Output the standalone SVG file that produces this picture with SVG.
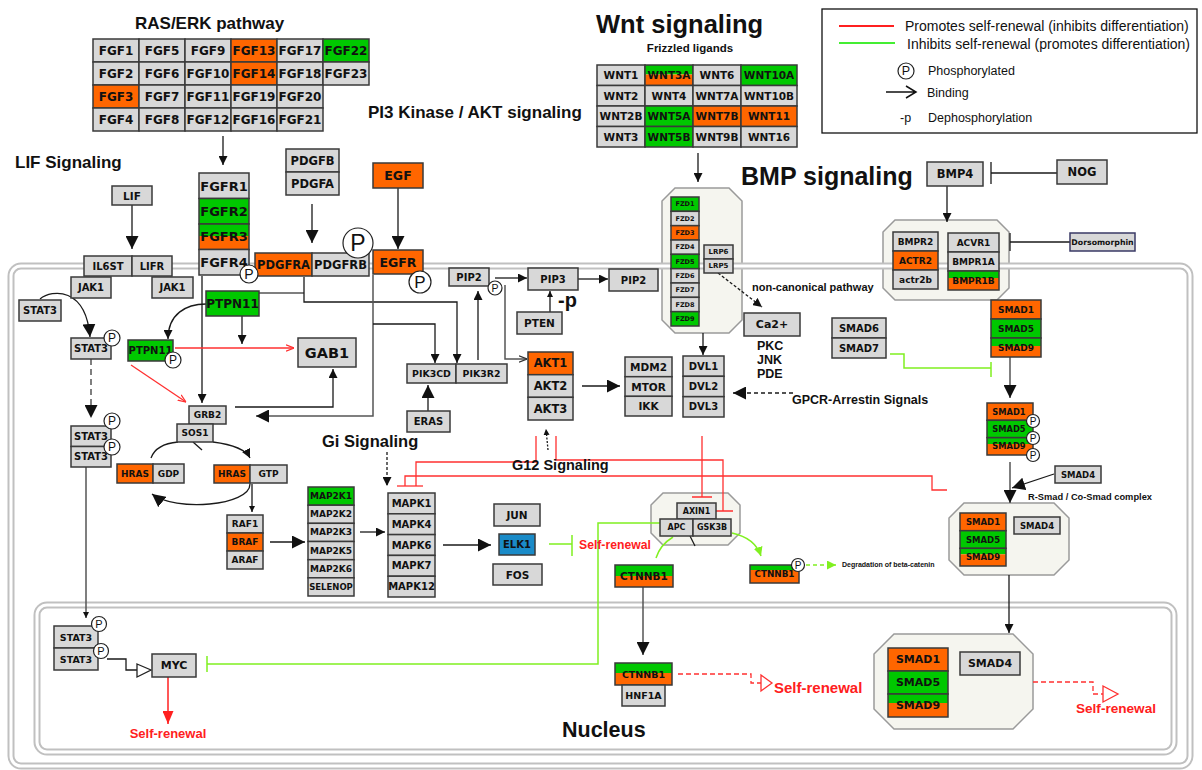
<svg xmlns="http://www.w3.org/2000/svg" width="1202" height="770" viewBox="0 0 1202 770">
<style>
.n{fill:#d8d8d8;stroke:#3a3a3a;stroke-width:1.5}
.o{fill:#ff6600;stroke:#3a3a3a;stroke-width:1.5}
.g{fill:#00c800;stroke:#3a3a3a;stroke-width:1.5}
.bl{fill:#1a8bc8;stroke:#3a3a3a;stroke-width:1.5}
.b{fill:none;stroke:#3a3a3a;stroke-width:1.5}
.fo{fill:#ff6600}
.fg{fill:#00c800}
.t{font-family:"DejaVu Sans",Verdana,sans-serif;font-weight:bold;text-anchor:middle;dominant-baseline:central;fill:#111}
.h{font-family:"Liberation Sans",Arial,sans-serif;font-weight:bold;fill:#111}
.hr{font-family:"Liberation Sans",Arial,sans-serif;font-weight:bold;fill:#ff2020}
.l{font-family:"Liberation Sans",Arial,sans-serif;fill:#111}
.cx{fill:#f5f5ef;stroke:#9a9a9a;stroke-width:1.5}
.mem{fill:none;stroke:#c0c0c0;stroke-width:7}
.memi{fill:none;stroke:#fff;stroke-width:3}
.k{fill:none;stroke:#1a1a1a;stroke-width:1.3}
.gr{fill:none;stroke:#555;stroke-width:1.5}
.r{fill:none;stroke:#ff3030;stroke-width:1.3}
.gn{fill:none;stroke:#80f020;stroke-width:1.5}
.pc{fill:#fff;stroke:#222;stroke-width:1.2}
.pt{font-family:"Liberation Sans",Arial,sans-serif;text-anchor:middle;dominant-baseline:central;fill:#111}
</style>
<defs>
<marker id="ak" viewBox="0 0 10 10" refX="10" refY="5" markerWidth="9" markerHeight="9" markerUnits="userSpaceOnUse" orient="auto"><path d="M0,0L10,5L0,10z" fill="#111"/></marker>
<marker id="aK" viewBox="0 0 10 10" refX="10" refY="5" markerWidth="13" markerHeight="13" markerUnits="userSpaceOnUse" orient="auto"><path d="M0,0L10,5L0,10z" fill="#111"/></marker>
<marker id="as" viewBox="0 0 10 10" refX="10" refY="5" markerWidth="6" markerHeight="6" markerUnits="userSpaceOnUse" orient="auto"><path d="M0,0L10,5L0,10z" fill="#111"/></marker>
<marker id="ar" viewBox="0 0 10 10" refX="10" refY="5" markerWidth="8" markerHeight="8" markerUnits="userSpaceOnUse" orient="auto"><path d="M0,1L10,5L0,9" fill="none" stroke="#ff3030" stroke-width="1.5"/></marker>
<marker id="ao" viewBox="0 0 10 10" refX="10" refY="5" markerWidth="8" markerHeight="8" markerUnits="userSpaceOnUse" orient="auto"><path d="M0,1L10,5L0,9" fill="none" stroke="#333" stroke-width="1.5"/></marker>
<marker id="aR" viewBox="0 0 10 10" refX="10" refY="5" markerWidth="13" markerHeight="11" markerUnits="userSpaceOnUse" orient="auto" preserveAspectRatio="none"><path d="M0,0L10,5L0,10z" fill="#ff2020"/></marker>
<marker id="ag" viewBox="0 0 10 10" refX="10" refY="5" markerWidth="9" markerHeight="9" markerUnits="userSpaceOnUse" orient="auto"><path d="M0,0L10,5L0,10z" fill="#80f020"/></marker>
</defs>
<rect width="1202" height="770" fill="#fff"/>

<!-- complexes (octagons) -->
<g id="complexes">
<polygon class="cx" points="675,188 729,188 742,201 742,320 729,333 675,333 662,320 662,201"/>
<polygon class="cx" points="895,220 997,220 1009,232 1009,288 997,300 895,300 883,288 883,232"/>
<polygon class="cx" points="663,493 728,493 740,505 740,533 728,545 663,545 651,533 651,505"/>
<polygon class="cx" points="964,503 1054,503 1069,518 1069,560 1054,575 964,575 949,560 949,518"/>
<polygon class="cx" points="894,634 1013,634 1033,654 1033,709 1013,729 894,729 874,709 874,654"/>
</g>

<!-- compartments -->
<g id="compartments">
<rect class="mem" x="11" y="266" width="1179" height="500" rx="10"/>
<rect class="memi" x="11" y="266" width="1179" height="500" rx="10"/>
<rect class="mem" x="37" y="605" width="1137" height="147" rx="10"/>
<rect class="memi" x="37" y="605" width="1137" height="147" rx="10"/>
</g>

<!-- connectors -->
<g id="connectors">
<path class="k" d="M223 136V165" marker-end="url(#ak)"/>
<path class="k" d="M132 205V249" marker-end="url(#aK)"/>
<path class="k" d="M40 299C52 289 86 287 90 337" marker-end="url(#aK)"/>
<path class="gr" d="M91 359V418" stroke-dasharray="6,4" marker-end="url(#aK)"/>
<path class="gr" d="M86 467V618" marker-end="url(#as)"/>
<path class="k" d="M312 204V243" marker-end="url(#aK)"/>
<path class="k" d="M398 188V249" marker-end="url(#aK)"/>
<path class="k" d="M202 276V403" marker-end="url(#ak)"/>
<path class="gr" d="M259 293H304"/>
<path class="k" d="M304 277V302H457V363" marker-end="url(#ak)"/>
<path class="gr" d="M373 275V416H256" marker-end="url(#aK)"/>
<path class="k" d="M373 324H435V363" marker-end="url(#ak)"/>
<path class="k" d="M235 407H333V369" marker-end="url(#ak)"/>
<path class="k" d="M206 304C186 304 168 314 168 339" marker-end="url(#ak)"/>
<path class="k" d="M242 316V344" marker-end="url(#ak)"/>
<path class="r" d="M175 348H294" marker-end="url(#ar)"/>
<path class="r" d="M131 365L186 402" marker-end="url(#ar)"/>
<path class="k" d="M151 458Q156 444 178 442"/>
<path class="k" d="M213 442Q244 446 250 458" marker-end="url(#ak)"/>
<path class="k" d="M193 442L202 450"/>
<path class="k" d="M250 484C250 506 175 512 152 494" marker-end="url(#aK)"/>
<path class="k" d="M252 484V512" marker-end="url(#as)"/>
<path class="k" d="M270 542H305" marker-end="url(#aK)"/>
<path class="k" d="M360 532H385" marker-end="url(#ak)"/>
<path class="k" d="M443 545H491" marker-end="url(#aK)"/>
<path class="gn" d="M549 544H572M572 535V556"/>
<path class="k" d="M387 452V486" stroke-dasharray="3,2" marker-end="url(#ak)"/>
<path class="r" d="M397 486H423"/>
<path class="r" d="M416 486V462H536V436"/>
<path class="r" d="M405 486V476H932V490H947"/>
<path class="r" d="M556 436V460H723V511M715 511H733"/>
<path class="r" d="M702 436V497M692 497H712"/>
<path class="k" d="M548 450L546 429" stroke-dasharray="2,1.5" marker-end="url(#as)"/>
<path class="k" d="M478 360V291" marker-end="url(#ak)"/>
<path class="k" d="M428 411V385" marker-end="url(#aK)"/>
<path class="k" d="M495 278H527" marker-end="url(#ak)"/>
<path class="k" d="M578 279H608" marker-end="url(#ak)"/>
<path class="k" d="M550 312V291" marker-end="url(#as)"/>
<path class="gr" d="M505 285V359H527" marker-end="url(#ao)"/>
<path class="k" d="M582 386H620" marker-end="url(#aK)"/>
<path class="k" d="M698 153V182" marker-end="url(#ak)"/>
<path class="k" d="M703 333V355" marker-end="url(#ak)"/>
<path class="k" d="M718 273L762 307" stroke-dasharray="3,2" marker-end="url(#ak)"/>
<path class="k" d="M793 393H733" stroke-dasharray="4,3" marker-end="url(#aK)"/>
<path class="k" d="M947 186V222" marker-end="url(#ak)"/>
<path class="k" d="M1057 173H991"/><path class="k" d="M991 162V184" stroke-width="2.2"/>
<path class="k" d="M1070 242H1010"/><path class="k" d="M1010 233V251" stroke-width="2.2"/>
<path class="gn" d="M890 354H904V368H991M991 362V377"/>
<path class="gr" d="M1010 357V398" stroke-width="2" marker-end="url(#aK)"/>
<path class="gr" d="M1010 462V503" stroke-width="2" marker-end="url(#aK)"/>
<path class="k" d="M1054 474L1012 488" marker-end="url(#aK)"/>
<path class="k" d="M1009 575V633" marker-end="url(#ak)"/>
<path class="r" d="M1033 682H1093V694H1103" stroke-dasharray="5,3"/>
<polygon points="1103,686 1118,694 1103,702" fill="#fff" stroke="#ff3030" stroke-width="1.3"/>
<path class="gr" d="M643 587V655" marker-end="url(#aK)"/>
<path class="r" d="M678 674H751V683H761" stroke-dasharray="5,3"/>
<polygon points="761,675 772,683 761,691" fill="#fff" stroke="#ff3030" stroke-width="1.3"/>
<path class="k" d="M107 659H126V670H137"/>
<polygon points="137,664 151,670 137,677" fill="#fff" stroke="#222" stroke-width="1.3"/>
<path d="M168 677V724" stroke="#ff2020" stroke-width="1.5" fill="none" marker-end="url(#aR)"/>
<path class="gn" d="M660 523H598V664H207M207 656V672"/>
<path class="gn" d="M673 537Q660 545 656 558"/>
<path class="gn" d="M732 533Q755 538 761 556" marker-end="url(#ag)"/>
<path class="k" d="M690 536L695 546"/>
<path class="gn" d="M806 565H836" stroke-dasharray="4,3" marker-end="url(#ag)"/>
</g>

<!-- FGF ligands -->
<g id="fgf-ligands">
<rect class="n" x="93" y="39" width="46" height="23"/><text class="t" x="116" y="50.5" font-size="12">FGF1</text>
<rect class="n" x="139" y="39" width="46" height="23"/><text class="t" x="162" y="50.5" font-size="12">FGF5</text>
<rect class="n" x="185" y="39" width="46" height="23"/><text class="t" x="208" y="50.5" font-size="12">FGF9</text>
<rect class="o" x="231" y="39" width="46" height="23"/><text class="t" x="254" y="50.5" font-size="12">FGF13</text>
<rect class="n" x="277" y="39" width="46" height="23"/><text class="t" x="300" y="50.5" font-size="12">FGF17</text>
<rect class="g" x="323" y="39" width="46" height="23"/><text class="t" x="346" y="50.5" font-size="12">FGF22</text>
<rect class="n" x="93" y="62" width="46" height="23"/><text class="t" x="116" y="73.5" font-size="12">FGF2</text>
<rect class="n" x="139" y="62" width="46" height="23"/><text class="t" x="162" y="73.5" font-size="12">FGF6</text>
<rect class="n" x="185" y="62" width="46" height="23"/><text class="t" x="208" y="73.5" font-size="12">FGF10</text>
<rect class="o" x="231" y="62" width="46" height="23"/><text class="t" x="254" y="73.5" font-size="12">FGF14</text>
<rect class="n" x="277" y="62" width="46" height="23"/><text class="t" x="300" y="73.5" font-size="12">FGF18</text>
<rect class="n" x="323" y="62" width="46" height="23"/><text class="t" x="346" y="73.5" font-size="12">FGF23</text>
<rect class="o" x="93" y="85" width="46" height="23"/><text class="t" x="116" y="96.5" font-size="12">FGF3</text>
<rect class="n" x="139" y="85" width="46" height="23"/><text class="t" x="162" y="96.5" font-size="12">FGF7</text>
<rect class="n" x="185" y="85" width="46" height="23"/><text class="t" x="208" y="96.5" font-size="12">FGF11</text>
<rect class="n" x="231" y="85" width="46" height="23"/><text class="t" x="254" y="96.5" font-size="12">FGF19</text>
<rect class="n" x="277" y="85" width="46" height="23"/><text class="t" x="300" y="96.5" font-size="12">FGF20</text>
<rect class="n" x="93" y="108" width="46" height="23"/><text class="t" x="116" y="119.5" font-size="12">FGF4</text>
<rect class="n" x="139" y="108" width="46" height="23"/><text class="t" x="162" y="119.5" font-size="12">FGF8</text>
<rect class="n" x="185" y="108" width="46" height="23"/><text class="t" x="208" y="119.5" font-size="12">FGF12</text>
<rect class="n" x="231" y="108" width="46" height="23"/><text class="t" x="254" y="119.5" font-size="12">FGF16</text>
<rect class="n" x="277" y="108" width="46" height="23"/><text class="t" x="300" y="119.5" font-size="12">FGF21</text>
</g>

<!-- WNT ligands -->
<g id="wnt-ligands">
<rect class="n" x="597" y="65" width="48" height="20.5"/><text class="t" x="621" y="75.3" font-size="10.5">WNT1</text>
<rect class="fg" x="645" y="65" width="48" height="9.5"/><rect class="fo" x="645" y="74.5" width="48" height="11"/><rect class="b" x="645" y="65" width="48" height="20.5"/><text class="t" x="669" y="75.3" font-size="10.5">WNT3A</text>
<rect class="n" x="693" y="65" width="48" height="20.5"/><text class="t" x="717" y="75.3" font-size="10.5">WNT6</text>
<rect class="g" x="741" y="65" width="56" height="20.5"/><text class="t" x="769" y="75.3" font-size="10.5">WNT10A</text>
<rect class="n" x="597" y="85.5" width="48" height="20.5"/><text class="t" x="621" y="95.8" font-size="10.5">WNT2</text>
<rect class="n" x="645" y="85.5" width="48" height="20.5"/><text class="t" x="669" y="95.8" font-size="10.5">WNT4</text>
<rect class="n" x="693" y="85.5" width="48" height="20.5"/><text class="t" x="717" y="95.8" font-size="10.5">WNT7A</text>
<rect class="n" x="741" y="85.5" width="56" height="20.5"/><text class="t" x="769" y="95.8" font-size="10.5">WNT10B</text>
<rect class="n" x="597" y="106" width="48" height="20.5"/><text class="t" x="621" y="116.3" font-size="10.5">WNT2B</text>
<rect class="g" x="645" y="106" width="48" height="20.5"/><text class="t" x="669" y="116.3" font-size="10.5">WNT5A</text>
<rect class="o" x="693" y="106" width="48" height="20.5"/><text class="t" x="717" y="116.3" font-size="10.5">WNT7B</text>
<rect class="o" x="741" y="106" width="56" height="20.5"/><text class="t" x="769" y="116.3" font-size="10.5">WNT11</text>
<rect class="n" x="597" y="126.5" width="48" height="20.5"/><text class="t" x="621" y="136.8" font-size="10.5">WNT3</text>
<rect class="g" x="645" y="126.5" width="48" height="20.5"/><text class="t" x="669" y="136.8" font-size="10.5">WNT5B</text>
<rect class="n" x="693" y="126.5" width="48" height="20.5"/><text class="t" x="717" y="136.8" font-size="10.5">WNT9B</text>
<rect class="n" x="741" y="126.5" width="56" height="20.5"/><text class="t" x="769" y="136.8" font-size="10.5">WNT16</text>
</g>

<g id="fgfr">
<rect class="n" x="199" y="173" width="50" height="25.5"/><text class="t" x="224" y="186" font-size="13">FGFR1</text>
<rect class="g" x="199" y="198.5" width="50" height="25.5"/><text class="t" x="224" y="211.3" font-size="13">FGFR2</text>
<rect class="fg" x="199" y="224" width="50" height="12"/><rect class="fo" x="199" y="236" width="50" height="13.5"/><rect class="b" x="199" y="224" width="50" height="25.5"/><text class="t" x="224" y="236.8" font-size="13">FGFR3</text>
<rect class="n" x="199" y="249.5" width="50" height="25.5"/><text class="t" x="224" y="262.3" font-size="13">FGFR4</text>
</g>
<g id="lif"><rect class="n" x="112" y="186" width="40" height="19"/><text class="t" x="132" y="195.5" font-size="10.5">LIF</text></g>
<g id="il6st-lifr">
<rect class="n" x="84" y="256" width="48" height="20"/><text class="t" x="108" y="266" font-size="10">IL6ST</text>
<rect class="n" x="132" y="256" width="40" height="20"/><text class="t" x="152" y="266" font-size="10">LIFR</text>
</g>
<g id="jak1-a"><rect class="n" x="71" y="277" width="40" height="21"/><text class="t" x="91" y="287.5" font-size="10">JAK1</text></g>
<g id="jak1-b"><rect class="n" x="152" y="277" width="41" height="21"/><text class="t" x="172.5" y="287.5" font-size="10">JAK1</text></g>
<g id="stat3"><rect class="n" x="19" y="300" width="42" height="21"/><text class="t" x="40" y="310.5" font-size="10">STAT3</text></g>
<g id="stat3-p"><rect class="n" x="71" y="338" width="40" height="21"/><text class="t" x="91" y="348.5" font-size="10">STAT3</text></g>
<g id="stat3-dimer">
<rect class="n" x="71" y="426" width="40" height="20.5"/><text class="t" x="91" y="436.3" font-size="10">STAT3</text>
<rect class="n" x="71" y="446.5" width="40" height="20.5"/><text class="t" x="91" y="456.8" font-size="10">STAT3</text>
</g>
<g id="pdgf">
<rect class="n" x="286" y="149" width="53" height="23"/><text class="t" x="312.5" y="160.5" font-size="11.5">PDGFB</text>
<rect class="n" x="286" y="172" width="53" height="23"/><text class="t" x="312.5" y="183.5" font-size="11.5">PDGFA</text>
</g>
<g id="pdgfr">
<rect class="o" x="255" y="253" width="57" height="23"/><text class="t" x="283.5" y="264.5" font-size="11.5">PDGFRA</text>
<rect class="n" x="312" y="253" width="57" height="23"/><text class="t" x="340.5" y="264.5" font-size="11.5">PDGFRB</text>
</g>
<g id="egf"><rect class="o" x="373" y="163" width="50" height="25"/><text class="t" x="398" y="175.5" font-size="12.5">EGF</text></g>
<g id="egfr"><rect class="o" x="373" y="250" width="50" height="24"/><text class="t" x="398" y="262" font-size="12.5">EGFR</text></g>
<g id="ptpn11"><rect class="g" x="206" y="291" width="53" height="25"/><text class="t" x="232.5" y="303.5" font-size="12">PTPN11</text></g>
<g id="ptpn11-p"><rect class="g" x="128" y="340" width="45" height="21"/><text class="t" x="150.5" y="350.5" font-size="10">PTPN11</text></g>
<g id="gab1"><rect class="n" x="298" y="338" width="58" height="29"/><text class="t" x="327" y="352.5" font-size="14.5">GAB1</text></g>
<g id="grb2"><rect class="n" x="189" y="406" width="37" height="18"/><text class="t" x="207.5" y="415" font-size="9">GRB2</text></g>
<g id="sos1"><rect class="n" x="177" y="424" width="36" height="18"/><text class="t" x="195" y="433" font-size="9">SOS1</text></g>
<g id="hras-gdp">
<rect class="o" x="117" y="464" width="36" height="19"/><text class="t" x="135" y="473.5" font-size="9">HRAS</text>
<rect class="n" x="153" y="464" width="31" height="19"/><text class="t" x="168.5" y="473.5" font-size="9">GDP</text>
</g>
<g id="hras-gtp">
<rect class="o" x="214" y="465" width="36" height="18"/><text class="t" x="232" y="474" font-size="9">HRAS</text>
<rect class="n" x="250" y="465" width="37" height="18"/><text class="t" x="268.5" y="474" font-size="9">GTP</text>
</g>
<g id="raf">
<rect class="n" x="227" y="515" width="36" height="18"/><text class="t" x="245" y="524" font-size="9">RAF1</text>
<rect class="o" x="227" y="533" width="36" height="18"/><text class="t" x="245" y="542" font-size="9">BRAF</text>
<rect class="n" x="227" y="551" width="36" height="18"/><text class="t" x="245" y="560" font-size="9">ARAF</text>
</g>
<g id="map2k">
<rect class="g" x="308" y="487" width="46" height="18.2"/><text class="t" x="331" y="496.1" font-size="9">MAP2K1</text>
<rect class="n" x="308" y="505.2" width="46" height="18.2"/><text class="t" x="331" y="514.3" font-size="9">MAP2K2</text>
<rect class="n" x="308" y="523.3" width="46" height="18.2"/><text class="t" x="331" y="532.4" font-size="9">MAP2K3</text>
<rect class="n" x="308" y="541.5" width="46" height="18.2"/><text class="t" x="331" y="550.6" font-size="9">MAP2K5</text>
<rect class="n" x="308" y="559.7" width="46" height="18.2"/><text class="t" x="331" y="568.8" font-size="9">MAP2K6</text>
<rect class="n" x="308" y="577.8" width="46" height="18.2"/><text class="t" x="331" y="586.9" font-size="8.5">SELENOP</text>
</g>
<g id="mapk">
<rect class="n" x="388" y="493" width="47" height="20.8"/><text class="t" x="411.5" y="503.4" font-size="10">MAPK1</text>
<rect class="n" x="388" y="513.8" width="47" height="20.8"/><text class="t" x="411.5" y="524.2" font-size="10">MAPK4</text>
<rect class="n" x="388" y="534.6" width="47" height="20.8"/><text class="t" x="411.5" y="545" font-size="10">MAPK6</text>
<rect class="n" x="388" y="555.4" width="47" height="20.8"/><text class="t" x="411.5" y="565.8" font-size="10">MAPK7</text>
<rect class="n" x="388" y="576.2" width="47" height="20.8"/><text class="t" x="411.5" y="586.6" font-size="10">MAPK12</text>
</g>
<g id="jun"><rect class="n" x="494" y="504" width="46" height="22"/><text class="t" x="517" y="515" font-size="10.5">JUN</text></g>
<g id="elk1"><rect class="bl" x="499" y="534" width="36" height="21"/><text class="t" x="517" y="544.5" font-size="10">ELK1</text></g>
<g id="fos"><rect class="n" x="493" y="564" width="49" height="21"/><text class="t" x="517.5" y="574.5" font-size="10.5">FOS</text></g>
<g id="pi3k">
<rect class="n" x="407" y="364" width="49" height="19"/><text class="t" x="431.5" y="373.5" font-size="9.4">PIK3CD</text>
<rect class="n" x="456" y="364" width="51" height="19"/><text class="t" x="481.5" y="373.5" font-size="9.4">PIK3R2</text>
</g>
<g id="eras"><rect class="n" x="407" y="411" width="43" height="21"/><text class="t" x="428.5" y="421.5" font-size="10">ERAS</text></g>
<g id="pip2-a"><rect class="n" x="449" y="268" width="40" height="18"/><text class="t" x="469" y="277" font-size="10">PIP2</text></g>
<g id="pip3"><rect class="n" x="528" y="268" width="50" height="22"/><text class="t" x="553" y="279" font-size="10">PIP3</text></g>
<g id="pip2-b"><rect class="n" x="609" y="269" width="49" height="22"/><text class="t" x="633.5" y="280" font-size="10">PIP2</text></g>
<g id="pten"><rect class="n" x="517" y="312" width="45" height="22"/><text class="t" x="539.5" y="323" font-size="10.5">PTEN</text></g>
<g id="akt">
<rect class="o" x="528" y="352" width="45" height="22.7"/><text class="t" x="550.5" y="363.3" font-size="11.5">AKT1</text>
<rect class="n" x="528" y="374.7" width="45" height="22.7"/><text class="t" x="550.5" y="386" font-size="11.5">AKT2</text>
<rect class="n" x="528" y="397.3" width="45" height="22.7"/><text class="t" x="550.5" y="408.7" font-size="11.5">AKT3</text>
</g>
<g id="mdm2-mtor-ikk">
<rect class="n" x="625" y="357" width="47" height="19.7"/><text class="t" x="648.5" y="366.8" font-size="10.5">MDM2</text>
<rect class="n" x="625" y="376.7" width="47" height="19.7"/><text class="t" x="648.5" y="386.5" font-size="10.5">MTOR</text>
<rect class="n" x="625" y="396.3" width="47" height="19.7"/><text class="t" x="648.5" y="406.2" font-size="10.5">IKK</text>
</g>
<g id="dvl">
<rect class="n" x="683" y="356" width="41" height="20.3"/><text class="t" x="703.5" y="366.2" font-size="10">DVL1</text>
<rect class="n" x="683" y="376.3" width="41" height="20.3"/><text class="t" x="703.5" y="386.5" font-size="10">DVL2</text>
<rect class="n" x="683" y="396.7" width="41" height="20.3"/><text class="t" x="703.5" y="406.8" font-size="10">DVL3</text>
</g>
<g id="fzd">
<rect class="g" x="671" y="197" width="28" height="14.33"/><text class="t" x="685" y="204.2" font-size="6.5">FZD1</text>
<rect class="n" x="671" y="211.33" width="28" height="14.33"/><text class="t" x="685" y="218.5" font-size="6.5">FZD2</text>
<rect class="o" x="671" y="225.67" width="28" height="14.33"/><text class="t" x="685" y="232.8" font-size="6.5">FZD3</text>
<rect class="n" x="671" y="240" width="28" height="14.33"/><text class="t" x="685" y="247.2" font-size="6.5">FZD4</text>
<rect class="g" x="671" y="254.33" width="28" height="14.33"/><text class="t" x="685" y="261.5" font-size="6.5">FZD5</text>
<rect class="n" x="671" y="268.67" width="28" height="14.33"/><text class="t" x="685" y="275.8" font-size="6.5">FZD6</text>
<rect class="n" x="671" y="283" width="28" height="14.33"/><text class="t" x="685" y="290.2" font-size="6.5">FZD7</text>
<rect class="n" x="671" y="297.33" width="28" height="14.33"/><text class="t" x="685" y="304.5" font-size="6.5">FZD8</text>
<rect class="g" x="671" y="311.67" width="28" height="14.33"/><text class="t" x="685" y="318.8" font-size="6.5">FZD9</text>
</g>
<g id="lrp">
<rect class="n" x="704" y="245" width="29" height="14"/><text class="t" x="718.5" y="252" font-size="7">LRP6</text>
<rect class="n" x="704" y="259" width="29" height="14"/><text class="t" x="718.5" y="266" font-size="7">LRP5</text>
</g>
<g id="ca2"><rect class="n" x="744" y="313" width="56" height="23"/><text class="t" x="772" y="324.5" font-size="11">Ca2+</text></g>
<g id="smad67">
<rect class="n" x="832" y="318" width="54" height="20"/><text class="t" x="859" y="328" font-size="10">SMAD6</text>
<rect class="n" x="832" y="338" width="54" height="20"/><text class="t" x="859" y="348" font-size="10">SMAD7</text>
</g>
<g id="bmp4"><rect class="n" x="927" y="162" width="56" height="24"/><text class="t" x="955" y="174" font-size="11.5">BMP4</text></g>
<g id="nog"><rect class="n" x="1057" y="160" width="50" height="24"/><text class="t" x="1082" y="172" font-size="11.5">NOG</text></g>
<g id="bmp-receptors">
<rect class="n" x="893" y="232" width="45" height="19"/><text class="t" x="915.5" y="241.5" font-size="9">BMPR2</text>
<rect class="o" x="893" y="251" width="45" height="19"/><text class="t" x="915.5" y="260.5" font-size="9">ACTR2</text>
<rect class="n" x="893" y="270" width="45" height="19"/><text class="t" x="915.5" y="279.5" font-size="9">actr2b</text>
<rect class="n" x="948" y="233" width="51" height="19"/><text class="t" x="973.5" y="242.5" font-size="9">ACVR1</text>
<rect class="n" x="948" y="252" width="51" height="19"/><text class="t" x="973.5" y="261.5" font-size="9">BMPR1A</text>
<rect class="fg" x="948" y="271" width="51" height="7"/><rect class="fo" x="948" y="278" width="51" height="12"/><rect class="b" x="948" y="271" width="51" height="19"/><text class="t" x="973.5" y="280.5" font-size="9">BMPR1B</text>
</g>
<g id="dorsomorphin"><rect class="n" x="1070" y="233" width="65" height="18" style="stroke:#3a3a66"/><text class="t" x="1102.5" y="242" font-size="7.8">Dorsomorphin</text></g>
<g id="smad159">
<rect class="o" x="991" y="300" width="50" height="19"/><text class="t" x="1016" y="309.5" font-size="9">SMAD1</text>
<rect class="g" x="991" y="319" width="50" height="19"/><text class="t" x="1016" y="328.5" font-size="9">SMAD5</text>
<rect class="fg" x="991" y="338" width="50" height="8"/><rect class="fo" x="991" y="346" width="50" height="11"/><rect class="b" x="991" y="338" width="50" height="19"/><text class="t" x="1016" y="347.5" font-size="9">SMAD9</text>
</g>
<g id="smad159-p">
<rect class="o" x="987" y="403" width="46" height="17.3"/><text class="t" x="1009" y="411.7" font-size="8.3">SMAD1</text>
<rect class="g" x="987" y="420.3" width="46" height="17.3"/><text class="t" x="1009" y="429" font-size="8.3">SMAD5</text>
<rect class="fg" x="987" y="437.7" width="46" height="6.3"/><rect class="fo" x="987" y="444" width="46" height="11"/><rect class="b" x="987" y="437.7" width="46" height="17.3"/><text class="t" x="1009" y="446.3" font-size="8.3">SMAD9</text>
</g>
<g id="smad4-a"><rect class="n" x="1055" y="466" width="46" height="17"/><text class="t" x="1078" y="474.5" font-size="8.5">SMAD4</text></g>
<g id="rsmad-cosmad">
<rect class="o" x="960" y="513" width="46" height="17.7"/><text class="t" x="983" y="521.8" font-size="8.5">SMAD1</text>
<rect class="g" x="960" y="530.7" width="46" height="17.7"/><text class="t" x="983" y="539.5" font-size="8.5">SMAD5</text>
<rect class="fg" x="960" y="548.3" width="46" height="6"/><rect class="fo" x="960" y="554.3" width="46" height="11.7"/><rect class="b" x="960" y="548.3" width="46" height="17.7"/><text class="t" x="983" y="557.2" font-size="8.5">SMAD9</text>
<rect class="n" x="1014" y="517" width="46" height="17"/><text class="t" x="1037" y="525.5" font-size="8.5">SMAD4</text>
</g>
<g id="destruction-complex">
<rect class="n" x="677" y="503" width="39" height="16"/><text class="t" x="696.5" y="511" font-size="8">AXIN1</text>
<rect class="n" x="660" y="519" width="33" height="17"/><text class="t" x="676.5" y="527.5" font-size="8">APC</text>
<rect class="n" x="693" y="519" width="38" height="17"/><text class="t" x="712" y="527.5" font-size="8">GSK3B</text>
</g>
<g id="ctnnb1-a">
<rect class="fg" x="615" y="565" width="58" height="11"/><rect class="fo" x="615" y="576" width="58" height="11"/><rect class="b" x="615" y="565" width="58" height="22"/><text class="t" x="644" y="576" font-size="10.5">CTNNB1</text>
</g>
<g id="ctnnb1-p">
<rect class="fg" x="750" y="565" width="49" height="5"/><rect class="fo" x="750" y="570" width="49" height="13"/><rect class="b" x="750" y="565" width="49" height="18"/><text class="t" x="774.5" y="574" font-size="8.8">CTNNB1</text>
</g>
<g id="stat3-nuc">
<rect class="n" x="54" y="626" width="44" height="22"/><text class="t" x="76" y="637" font-size="9.5">STAT3</text>
<rect class="n" x="54" y="648" width="44" height="22"/><text class="t" x="76" y="659" font-size="9.5">STAT3</text>
</g>
<g id="myc"><rect class="n" x="152" y="654" width="44" height="23"/><text class="t" x="174" y="665.5" font-size="11">MYC</text></g>
<g id="ctnnb1-nuc">
<rect class="fg" x="615" y="663" width="57" height="10"/><rect class="fo" x="615" y="673" width="57" height="12"/><rect class="b" x="615" y="663" width="57" height="22"/><text class="t" x="643.5" y="674" font-size="9.5">CTNNB1</text>
</g>
<g id="hnf1a"><rect class="n" x="622" y="685" width="43" height="21"/><text class="t" x="643.5" y="695.5" font-size="9.5">HNF1A</text></g>
<g id="smad-nuc">
<rect class="o" x="888" y="648" width="60" height="23"/><text class="t" x="918" y="659.5" font-size="11">SMAD1</text>
<rect class="g" x="888" y="671" width="60" height="23"/><text class="t" x="918" y="682.5" font-size="11">SMAD5</text>
<rect class="fg" x="888" y="694" width="60" height="9"/><rect class="fo" x="888" y="703" width="60" height="14"/><rect class="b" x="888" y="694" width="60" height="23"/><text class="t" x="918" y="705.5" font-size="11">SMAD9</text>
<rect class="n" x="960" y="652" width="60" height="23"/><text class="t" x="990" y="663.5" font-size="11">SMAD4</text>
</g>

<!-- phosphorylation marks -->
<g id="phospho">
<circle class="pc" cx="249" cy="274" r="9"/><text class="pt" x="249" y="274" font-size="14">P</text>
<circle class="pc" cx="358" cy="243" r="15"/><text class="pt" x="358" y="243" font-size="23">P</text>
<circle class="pc" cx="420" cy="282" r="11"/><text class="pt" x="420" y="282" font-size="17">P</text>
<circle class="pc" cx="495" cy="288" r="7"/><text class="pt" x="495" y="288" font-size="10.5">P</text>
<circle class="pc" cx="112" cy="338" r="8"/><text class="pt" x="112" y="338" font-size="12">P</text>
<circle class="pc" cx="112" cy="421" r="8"/><text class="pt" x="112" y="421" font-size="12">P</text>
<circle class="pc" cx="112" cy="447" r="8"/><text class="pt" x="112" y="447" font-size="12">P</text>
<circle class="pc" cx="173" cy="360" r="8"/><text class="pt" x="173" y="360" font-size="12">P</text>
<circle class="pc" cx="1033" cy="421" r="6.5"/><text class="pt" x="1033" y="421" font-size="10">P</text>
<circle class="pc" cx="1033" cy="438" r="6.5"/><text class="pt" x="1033" y="438" font-size="10">P</text>
<circle class="pc" cx="1033" cy="455" r="6.5"/><text class="pt" x="1033" y="455" font-size="10">P</text>
<circle class="pc" cx="798" cy="565" r="6.5"/><text class="pt" x="798" y="565" font-size="10">P</text>
<circle class="pc" cx="99" cy="624" r="7.5"/><text class="pt" x="99" y="624" font-size="11">P</text>
<circle class="pc" cx="101" cy="651" r="7.5"/><text class="pt" x="101" y="651" font-size="11">P</text>
</g>

<!-- labels -->
<g id="labels">
<text class="h" x="135" y="29" font-size="17">RAS/ERK pathway</text>
<text class="h" x="15" y="168" font-size="17">LIF Signaling</text>
<text class="h" x="368" y="118" font-size="17">PI3 Kinase / AKT signaling</text>
<text class="h" x="596" y="33" font-size="25.5">Wnt signaling</text>
<text class="h" x="690" y="52" font-size="11.5" text-anchor="middle">Frizzled ligands</text>
<text class="h" x="741" y="185" font-size="25">BMP signaling</text>
<text class="h" x="752" y="291" font-size="11">non-canonical pathway</text>
<text class="h" x="757" y="350" font-size="12.5">PKC</text>
<text class="h" x="757" y="364" font-size="12.5">JNK</text>
<text class="h" x="757" y="378" font-size="12.5">PDE</text>
<text class="h" x="792" y="404" font-size="12.5">GPCR-Arrestin Signals</text>
<text class="h" x="322" y="447" font-size="16.5">Gi Signaling</text>
<text class="h" x="512" y="470" font-size="14.5">G12 Signaling</text>
<text class="h" x="1028" y="500" font-size="9.3">R-Smad / Co-Smad complex</text>
<text class="h" x="842" y="567" font-size="7">Degradation of beta-catenin</text>
<text class="h" x="558" y="307" font-size="20">-p</text>
<text class="hr" x="579" y="549" font-size="12.2">Self-renewal</text>
<text class="hr" x="168" y="738" font-size="13" text-anchor="middle">Self-renewal</text>
<text class="hr" x="774" y="693" font-size="15">Self-renewal</text>
<text class="hr" x="1116" y="713" font-size="13.6" text-anchor="middle">Self-renewal</text>
<text class="h" x="562" y="737" font-size="21.5">Nucleus</text>
</g>

<!-- legend -->
<g id="legend">
<rect x="822" y="9" width="375" height="124" fill="#fff" stroke="#111" stroke-width="1.3"/>
<path d="M839 26H894" stroke="#ff2020" stroke-width="2"/>
<text class="l" x="905" y="31" font-size="14">Promotes self-renewal (inhibits differentiation)</text>
<path d="M839 43H895" stroke="#44ee33" stroke-width="2"/>
<text class="l" x="907" y="49" font-size="14">Inhibits self-renewal (promotes differentiation)</text>
<circle class="pc" cx="906" cy="71" r="8"/><text class="pt" x="906" y="71" font-size="12.5">P</text>
<text class="l" x="928" y="75" font-size="12.5">Phosphorylated</text>
<path d="M886 92H915M906 86L916 92L906 98" fill="none" stroke="#111" stroke-width="1.5"/>
<text class="l" x="927" y="97" font-size="12.5">Binding</text>
<text class="l" x="900" y="122" font-size="12.5">-p</text>
<text class="l" x="928" y="122" font-size="12.5">Dephosphorylation</text>
</g>
</svg>
